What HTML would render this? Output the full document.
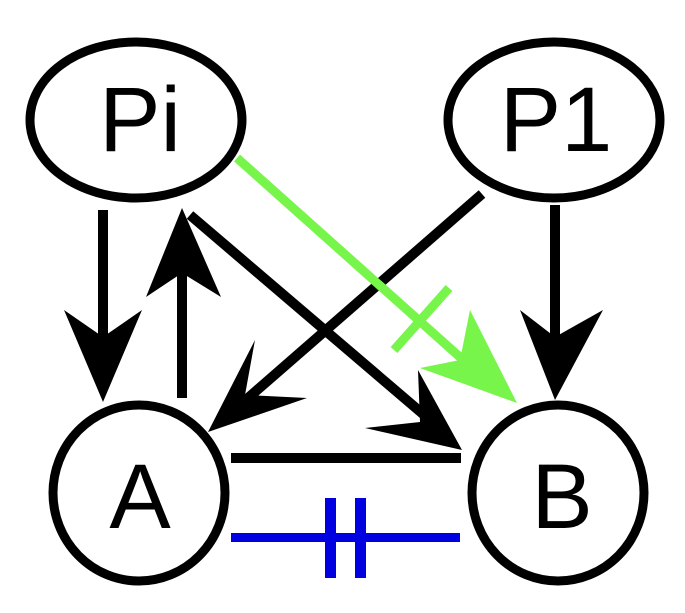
<!DOCTYPE html>
<html><head><style>html,body{margin:0;padding:0;background:#fff;}svg{display:block}</style></head>
<body>
<svg width="685" height="613" viewBox="0 0 685 613" xmlns="http://www.w3.org/2000/svg">
<g fill="none" stroke="#000" stroke-width="9">
<ellipse cx="136" cy="120" rx="106" ry="78"/>
<ellipse cx="554" cy="120" rx="106" ry="78"/>
<ellipse cx="139" cy="493" rx="86" ry="88"/>
<ellipse cx="558" cy="493" rx="86" ry="88"/>
</g>
<g fill="none" stroke="#000" stroke-width="10">
<line x1="103" y1="210" x2="103" y2="360"/>
<line x1="182" y1="398" x2="182" y2="250"/>
<line x1="190" y1="215" x2="430" y2="420"/>
<line x1="482" y1="194" x2="240" y2="405"/>
<line x1="555" y1="205" x2="555" y2="360"/>
</g>
<line x1="231" y1="458" x2="461" y2="458" stroke="#000" stroke-width="10"/>
<g fill="#000">
<polygon points="103,402 64,310 103,337 142,310"/>
<polygon points="182,208 146,297 182,273 221,297"/>
<polygon points="462,450 365,428 420,422 418,370"/>
<polygon points="208,432 255,340 245,395 307,398"/>
<polygon points="555,400 520,310 555,337 603,310"/>
</g>
<line x1="237" y1="158" x2="480" y2="375" stroke="#77f54a" stroke-width="9"/>
<line x1="394" y1="350" x2="449" y2="288" stroke="#77f54a" stroke-width="9"/>
<polygon points="517,403 420,368 460,360 470,310" fill="#77f54a"/>
<g fill="#0000e0">
<rect x="231" y="533" width="229" height="9"/>
<rect x="325" y="498" width="11" height="80"/>
<rect x="355" y="498" width="11" height="80"/>
</g>
<g font-family="Liberation Sans, sans-serif" font-size="92" text-anchor="middle" fill="#000">
<text x="140" y="151">Pi</text>
<text x="556" y="151">P1</text>
<text x="140" y="528">A</text>
<text x="562" y="528">B</text>
</g>
</svg>
</body></html>
